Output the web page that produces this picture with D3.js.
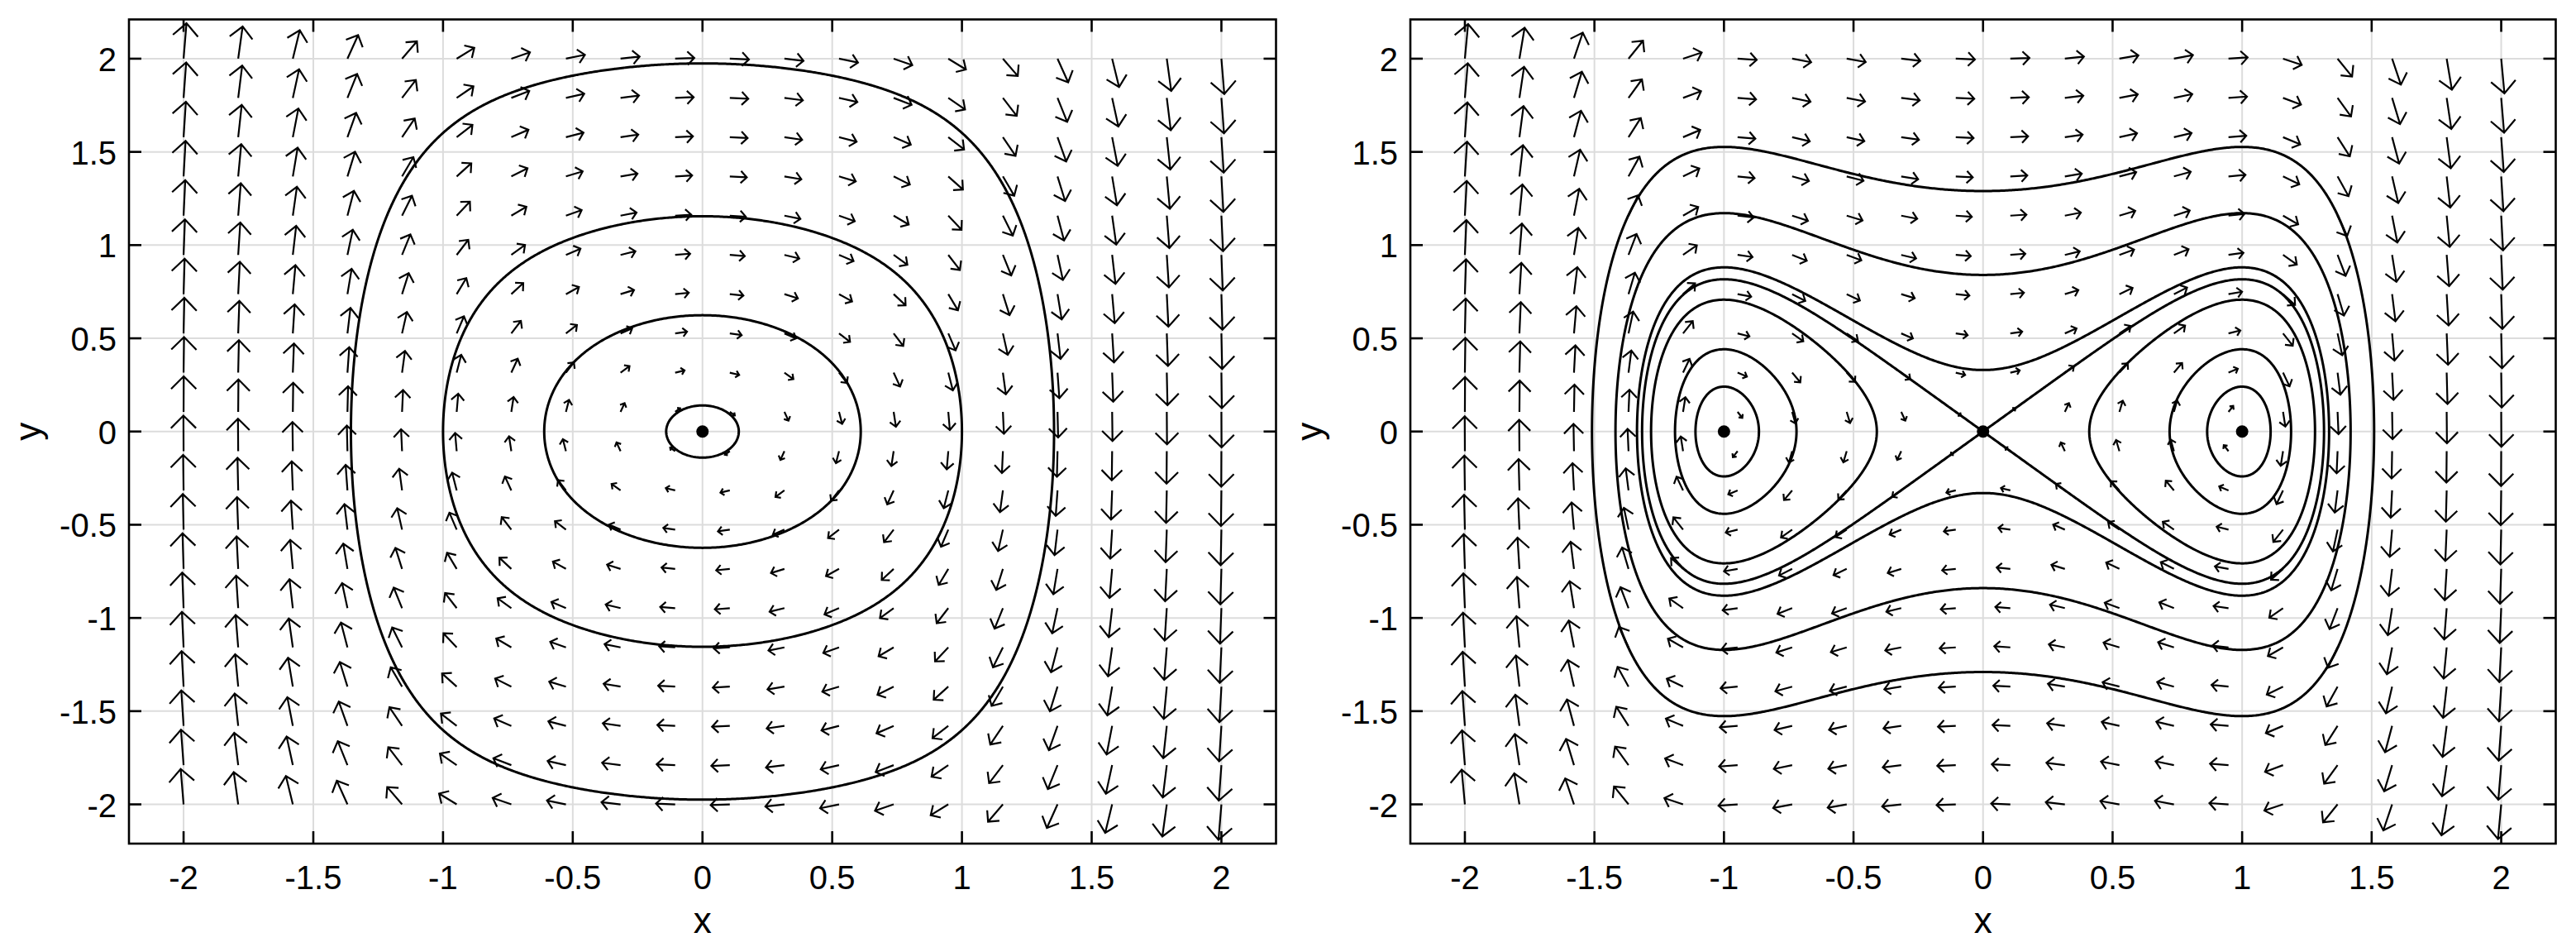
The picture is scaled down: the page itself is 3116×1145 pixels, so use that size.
<!DOCTYPE html>
<html><head><meta charset="utf-8">
<script src="https://cdn.jsdelivr.net/npm/d3@7"></script>
<style>
html,body{margin:0;padding:0;background:#fff;}
svg{display:block;}
text{font-family:"Liberation Sans", Arial, Helvetica, sans-serif; fill:#000;}
</style></head><body>
<svg id="chart" width="3116" height="1145"></svg>
<script>
// ---- data ----
// quiver grid (20 points from -2 to 2)
const gridX = [-2, -1.7895, -1.5789, -1.3684, -1.1579, -0.9474, -0.7368, -0.5263, -0.3158, -0.1053,
               0.1053, 0.3158, 0.5263, 0.7368, 0.9474, 1.1579, 1.3684, 1.5789, 1.7895, 2];
const gridY = gridX.slice();
const tickValues = [-2, -1.5, -1, -0.5, 0, 0.5, 1, 1.5, 2];
const tickLabels = ["-2", "-1.5", "-1", "-0.5", "0", "0.5", "1", "1.5", "2"];
const axisLimit = [-2.2105, 2.2105];
// left panel: x' = y, y' = -x - x^5 ; orbits given by their x-intercept (y = 0)
const leftOrbitXIntercepts = [0.14, 0.61, 1.0, 1.355];
const leftEquilibria = [[0, 0]];
// right panel: x' = y, y' = x - x^5
const rightOuterOrbitYIntercepts = [0, 0.33, 0.84, 1.29];   // crossing of x = 0 (0 = separatrix)
const rightLobeOrbitInnerX = [0.865, 0.72, 0.41];           // inner x-intercept of lobe orbits
const rightEquilibria = [[-1, 0], [0, 0], [1, 0]];
const xLabel = "x", yLabel = "y";

// ---- systems ----
const leftField = (x, y) => [y, -x - Math.pow(x, 5)];
const rightField = (x, y) => [y, x - Math.pow(x, 5)];
const leftH = (x, y) => y*y/2 + x*x/2 + Math.pow(x, 6)/6;
const rightH = (x, y) => y*y/2 - x*x/2 + Math.pow(x, 6)/6;

const panels = [
  {x0: 156, x1: 1543.5, field: leftField, H: leftH,
   levels: leftOrbitXIntercepts.map(a => leftH(a, 0)), eq: leftEquilibria},
  {x0: 1706, x1: 3091.5, field: rightField, H: rightH,
   levels: rightOuterOrbitYIntercepts.map(b => rightH(0, b)).concat(rightLobeOrbitInnerX.map(a => rightH(a, 0))),
   eq: rightEquilibria}
];
const yTop = 23.5, yBot = 1020;

const svg = d3.select("#chart");
const AX = 7.1, M0 = 0.08; // arrow length law (px)

panels.forEach(p => {
  const xs = d3.scaleLinear().domain(axisLimit).range([p.x0, p.x1]);
  const ys = d3.scaleLinear().domain(axisLimit).range([yBot, yTop]);
  const g = svg.append("g");

  // grid
  g.append("g").selectAll("line").data(tickValues).join("line")
    .attr("x1", d => xs(d)).attr("x2", d => xs(d)).attr("y1", yTop).attr("y2", yBot)
    .attr("stroke", "#dcdcdc").attr("stroke-width", 2);
  g.append("g").selectAll("line").data(tickValues).join("line")
    .attr("y1", d => ys(d)).attr("y2", d => ys(d)).attr("x1", p.x0).attr("x2", p.x1)
    .attr("stroke", "#dcdcdc").attr("stroke-width", 2);

  // quiver arrows
  const kx = xs(1) - xs(0), ky = ys(0) - ys(1);
  const arrows = [];
  gridX.forEach(gx => gridY.forEach(gy => {
    const [u, v] = p.field(gx, gy);
    const m = Math.hypot(u, v);
    let dx = u * kx, dy = -v * ky;
    const n = Math.hypot(dx, dy) || 1; dx /= n; dy /= n;
    const L = AX * Math.log(1 + m / M0);
    const tx = xs(gx), ty = ys(gy);
    const hx = tx + L * dx, hy = ty + L * dy;
    const w = 0.5 * L, c = Math.SQRT1_2;
    const bx = -dx, by = -dy;
    const w1x = hx + w * (bx * c - by * c), w1y = hy + w * (bx * c + by * c);
    const w2x = hx + w * (bx * c + by * c), w2y = hy + w * (-bx * c + by * c);
    arrows.push(`M${tx},${ty}L${hx},${hy}M${w1x},${w1y}L${hx},${hy}L${w2x},${w2y}`);
  }));
  g.append("g").selectAll("path").data(arrows).join("path")
    .attr("d", d => d).attr("fill", "none").attr("stroke", "#000").attr("stroke-width", 2.2);

  // orbits as level sets of the energy, via d3.contours
  const N = 701, lo = axisLimit[0], step = (axisLimit[1] - axisLimit[0]) / (N - 1);
  const values = new Float64Array(N * N);
  for (let j = 0; j < N; j++) for (let i = 0; i < N; i++)
    values[j * N + i] = -p.H(lo + i * step, lo + j * step);
  const gen = d3.contours().size([N, N]);
  const proj = d3.geoTransform({point: function(x, y) {
    this.stream.point(xs(lo + (x - 0.5) * step), ys(lo + (y - 0.5) * step));
  }});
  const path = d3.geoPath(proj);
  g.append("g").selectAll("path").data(p.levels.map(l => gen.contour(values, -l))).join("path")
    .attr("d", path).attr("fill", "none").attr("stroke", "#000").attr("stroke-width", 3)
    .attr("stroke-linejoin", "round");

  // equilibria
  g.append("g").selectAll("circle").data(p.eq).join("circle")
    .attr("cx", d => xs(d[0])).attr("cy", d => ys(d[1])).attr("r", 7.5).attr("fill", "#000");

  // box and ticks
  g.append("rect").attr("x", p.x0).attr("y", yTop).attr("width", p.x1 - p.x0).attr("height", yBot - yTop)
    .attr("fill", "none").attr("stroke", "#000").attr("stroke-width", 2.6);
  const T = 15;
  const tk = g.append("g").attr("stroke", "#000").attr("stroke-width", 2.6);
  tickValues.forEach(t => {
    tk.append("line").attr("x1", xs(t)).attr("x2", xs(t)).attr("y1", yBot).attr("y2", yBot - T);
    tk.append("line").attr("x1", xs(t)).attr("x2", xs(t)).attr("y1", yTop).attr("y2", yTop + T);
    tk.append("line").attr("y1", ys(t)).attr("y2", ys(t)).attr("x1", p.x0).attr("x2", p.x0 + T);
    tk.append("line").attr("y1", ys(t)).attr("y2", ys(t)).attr("x1", p.x1).attr("x2", p.x1 - T);
  });

  // tick labels
  g.append("g").selectAll("text").data(tickValues).join("text")
    .attr("x", d => xs(d)).attr("y", 1075).attr("text-anchor", "middle")
    .attr("font-size", 40).text((d, i) => tickLabels[i]);
  g.append("g").selectAll("text").data(tickValues).join("text")
    .attr("x", p.x0 - 15).attr("y", d => ys(d) + 15).attr("text-anchor", "end")
    .attr("font-size", 40).text((d, i) => tickLabels[i]);

  // axis labels
  g.append("text").attr("x", (p.x0 + p.x1) / 2).attr("y", 1128).attr("text-anchor", "middle")
    .attr("font-size", 44).text(xLabel);
  g.append("text").attr("transform", `translate(${p.x0 - 107},${(yTop + yBot) / 2}) rotate(-90)`)
    .attr("text-anchor", "middle").attr("font-size", 44).text(yLabel);
});
</script>
</body></html>
